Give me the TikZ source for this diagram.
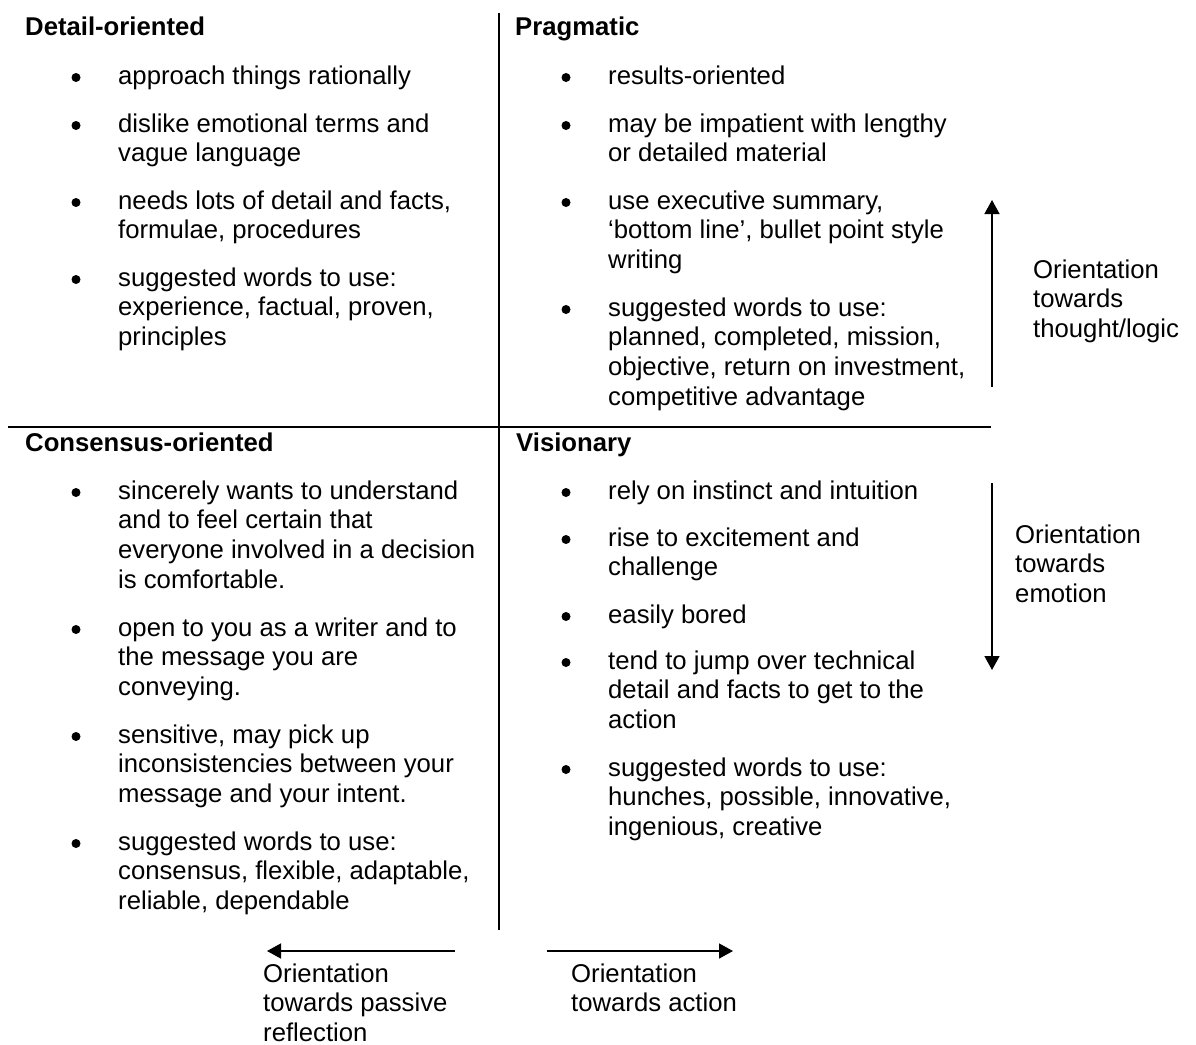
\documentclass[tikz,border=0pt]{standalone}
\usepackage{fontspec}
\setmainfont{Liberation Sans}
\usetikzlibrary{arrows.meta}

\newcommand{\bitem}[4]{%
  \node[dot] (#1dot) at (#2-42,#3-6.5) {};
  \node[txt] (#1) at (#2,#3) {\strut#4};}

\begin{document}
\begin{tikzpicture}[x=1pt,y=-1pt,
    every node/.style={font=\fontsize{25.7}{29.6}\selectfont}]
    \tikzstyle{head}=[anchor=base west,inner sep=0pt,font=\fontsize{25.7}{29.6}\selectfont\bfseries]
    \tikzstyle{txt}=[anchor=north west,yshift=20.72pt,inner sep=0pt,align=left]
    \tikzstyle{dot}=[circle,fill=black,inner sep=0pt,minimum size=9pt]
    \tikzstyle{divider}=[line width=2pt]
    \tikzstyle{orient}=[line width=1.5pt,-{Triangle[length=14pt,width=15pt]}]
    \useasboundingbox (0,0) rectangle (1196,1044);
    % dividers
    \coordinate (vtop) at (499,13);
    \coordinate (vbot) at (499,930);
    \coordinate (hleft) at (8,427);
    \coordinate (hright) at (991,427);
    \draw[divider] (vtop) -- (vbot);
    \draw[divider] (hleft) -- (hright);
    % detail-oriented
    \node[head] (detail) at (25,35) {Detail-oriented};
    \bitem{d1}{118}{84}{approach things rationally}
    \bitem{d2}{118}{132}{dislike emotional terms and\\vague language}
    \bitem{d3}{118}{209}{needs lots of detail and facts,\\formulae, procedures}
    \bitem{d4}{118}{286}{suggested words to use:\\experience, factual, proven,\\principles}
    % pragmatic
    \node[head] (prag) at (515,35) {Pragmatic};
    \bitem{p1}{608}{84}{results-oriented}
    \bitem{p2}{608}{132}{may be impatient with lengthy\\or detailed material}
    \bitem{p3}{608}{209}{use executive summary,\\‘bottom line’, bullet point style\\writing}
    \bitem{p4}{608}{316}{suggested words to use:\\planned, completed, mission,\\objective, return on investment,\\competitive advantage}
    % consensus-oriented
    \node[head] (cons) at (25,451) {Consensus-oriented};
    \bitem{c1}{118}{499}{sincerely wants to understand\\and to feel certain that\\everyone involved in a decision\\is comfortable.}
    \bitem{c2}{118}{636}{open to you as a writer and to\\the message you are\\conveying.}
    \bitem{c3}{118}{743}{sensitive, may pick up\\inconsistencies between your\\message and your intent.}
    \bitem{c4}{118}{850}{suggested words to use:\\consensus, flexible, adaptable,\\reliable, dependable}
    % visionary
    \node[head] (vis) at (516,451) {Visionary};
    \bitem{v1}{608}{499}{rely on instinct and intuition}
    \bitem{v2}{608}{546}{rise to excitement and\\challenge}
    \bitem{v3}{608}{623}{easily bored}
    \bitem{v4}{608}{669}{tend to jump over technical\\detail and facts to get to the\\action}
    \bitem{v5}{608}{776}{suggested words to use:\\hunches, possible, innovative,\\ingenious, creative}
    % orientation arrows
    \coordinate (thoughtS) at (992,387);
    \coordinate (thoughtE) at (992,200);
    \coordinate (emoS) at (992,483);
    \coordinate (emoE) at (992,670);
    \coordinate (passS) at (455,951);
    \coordinate (passE) at (267,951);
    \coordinate (actS) at (547,951);
    \coordinate (actE) at (733,951);
    \draw[orient] (thoughtS) -- (thoughtE);
    \draw[orient] (emoS) -- (emoE);
    \draw[orient] (passS) -- (passE);
    \draw[orient] (actS) -- (actE);
    % labels
    \node[txt] (thought) at (1033,278) {\strut Orientation\\towards\\thought/logic};
    \node[txt] (emo) at (1015,543) {\strut Orientation\\towards\\emotion};
    \node[txt] (pass) at (263,982) {\strut Orientation\\towards passive\\reflection};
    \node[txt] (act) at (571,982) {\strut Orientation\\towards action};
\end{tikzpicture}
\end{document}
